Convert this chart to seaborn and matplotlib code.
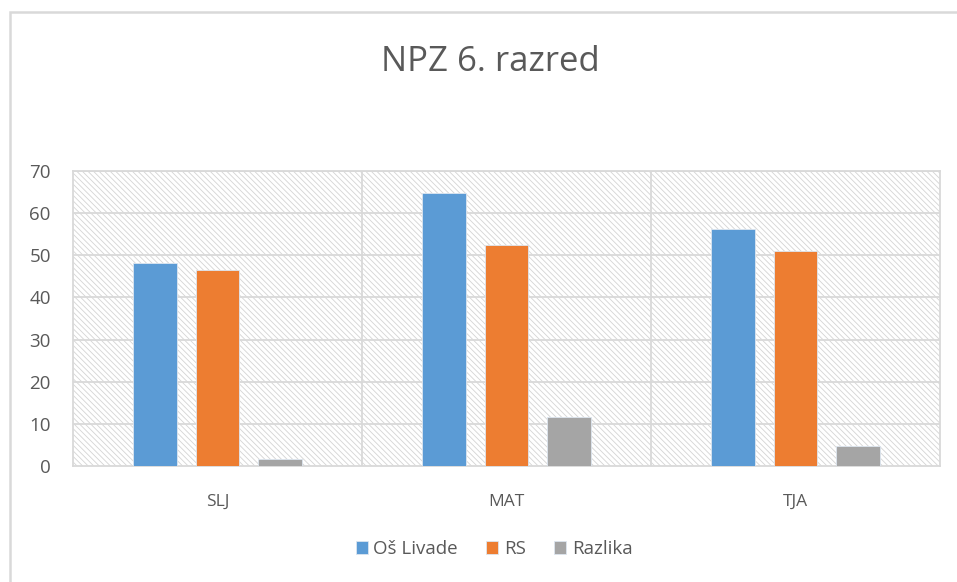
import pandas as pd
import numpy as np
import matplotlib
matplotlib.use("Agg")
import matplotlib.pyplot as plt
from matplotlib.patches import Rectangle
import seaborn as sns

# ------------------ Data ------------------
subjects = ["SLJ", "MAT", "TJA"]
series = ["Oš Livade", "RS", "Razlika"]
os_livade = [48.2, 64.7, 56.2]
rs = [46.5, 52.5, 51.0]
razlika = [1.7, 11.7, 4.8]
colors = ["#5B9BD5", "#ED7D31", "#A5A5A5"]

df = pd.DataFrame({
    "predmet": subjects * 3,
    "serija": [s for s in series for _ in subjects],
    "vrednost": os_livade + rs + razlika,
})

# ------------------ Style ------------------
sns.set_style("white")
plt.rcParams["font.family"] = ["Open Sans", "DejaVu Sans"]
plt.rcParams["hatch.linewidth"] = 0.6
plt.rcParams["hatch.color"] = "#d4d4d4"
text_col = "#595959"
grid_col = "#d9d9d9"

fig = plt.figure(figsize=(9.57, 5.82), dpi=100)
ax = fig.add_axes([73 / 957, 1 - 466 / 582, (940 - 73) / 957, (466 - 171) / 582])

# hatched plot background
ax.add_patch(Rectangle((0, 0), 1, 1, transform=ax.transAxes, facecolor="white",
                       edgecolor="#d4d4d4", hatch="\\\\\\\\\\\\", linewidth=0, zorder=0))

sns.barplot(data=df, x="predmet", y="vrednost", hue="serija", hue_order=series,
            order=subjects, palette=colors, saturation=1, width=0.652, gap=0.3,
            edgecolor="#dde6f0", linewidth=0.6, ax=ax, zorder=3, legend=True)

ax.set_ylim(0, 70)
ax.set_xlim(-0.5, 2.5)
ax.set_yticks(np.arange(0, 71, 10))
for y in np.arange(10, 71, 10):
    ax.axhline(y, color=grid_col, lw=1.3, zorder=1)
for x in [0.5, 1.5]:
    ax.axvline(x, color=grid_col, lw=1.3, zorder=1)
for sp in ax.spines.values():
    sp.set_color(grid_col)
    sp.set_linewidth(1.3)
    sp.set_visible(True)

ax.set_xlabel("")
ax.set_ylabel("")
ax.tick_params(axis="y", length=0, pad=16, labelsize=13.5, labelcolor=text_col)
ax.tick_params(axis="x", length=0, pad=20, labelsize=12.5, labelcolor=text_col)

fig.text(490 / 957, 1 - 62 / 582, "NPZ 6. razred", ha="center", va="center",
         fontsize=25, color=text_col)

handles, labels = ax.get_legend_handles_labels()
ax.legend_.remove()
fig.legend(handles, labels, loc="center", bbox_to_anchor=(494 / 957, 1 - 549 / 582),
           ncol=3, frameon=False, fontsize=13.5, labelcolor=text_col,
           handlelength=0.65, handleheight=0.65, handletextpad=0.3, columnspacing=1.5)

# outer chart border
fig.patches.append(Rectangle((10 / 957, -0.1), 1.2, 1.1 - 12 / 582, transform=fig.transFigure,
                             fill=False, edgecolor=grid_col, linewidth=1.8))

fig.savefig("out.png", dpi=100)
